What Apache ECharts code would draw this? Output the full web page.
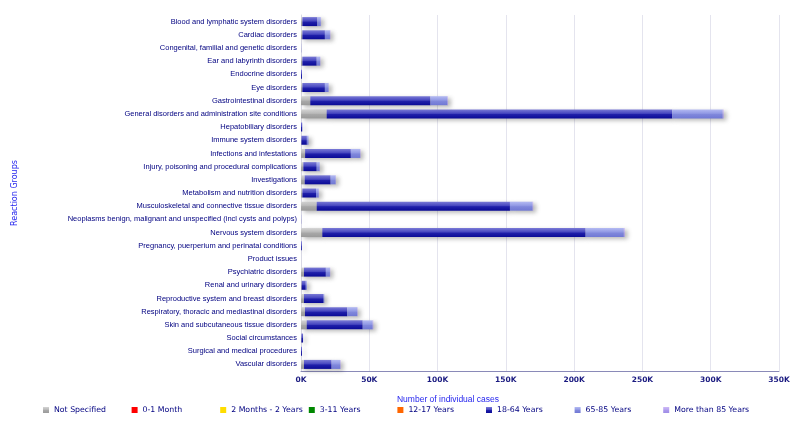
<!DOCTYPE html>
<html>
<head>
<meta charset="utf-8">
<script src="https://cdn.jsdelivr.net/npm/echarts@6/dist/echarts.min.js"></script>
<style>html,body{margin:0;padding:0;background:#fff}#c{width:800px;height:425px}</style>
</head>
<body>
<div id="c"></div>
<script>
const categories = [
  "Blood and lymphatic system disorders",
  "Cardiac disorders",
  "Congenital, familial and genetic disorders",
  "Ear and labyrinth disorders",
  "Endocrine disorders",
  "Eye disorders",
  "Gastrointestinal disorders",
  "General disorders and administration site conditions",
  "Hepatobiliary disorders",
  "Immune system disorders",
  "Infections and infestations",
  "Injury, poisoning and procedural complications",
  "Investigations",
  "Metabolism and nutrition disorders",
  "Musculoskeletal and connective tissue disorders",
  "Neoplasms benign, malignant and unspecified (incl cysts and polyps)",
  "Nervous system disorders",
  "Pregnancy, puerperium and perinatal conditions",
  "Product issues",
  "Psychiatric disorders",
  "Renal and urinary disorders",
  "Reproductive system and breast disorders",
  "Respiratory, thoracic and mediastinal disorders",
  "Skin and subcutaneous tissue disorders",
  "Social circumstances",
  "Surgical and medical procedures",
  "Vascular disorders"
];
const notSpecified = [1000,1000,0,1000,0,1000,6800,18800,0,300,3000,1700,2700,1000,11500,0,15600,0,0,2200,500,2200,2900,4200,300,0,2200];
const m0_1 = new Array(27).fill(0);
const m2_y2 = new Array(27).fill(0);
const y3_11 = new Array(27).fill(0);
const y12_17 = new Array(27).fill(0);
const y18_64 = [11000,16500,100,10500,700,16500,88000,253000,900,4000,33500,9800,19000,10000,141500,100,192800,600,0,16000,3000,14400,31000,41000,1200,700,20200];
const y65_85 = [2500,3700,0,2500,0,2700,12400,37000,0,1200,6800,2200,3700,2000,16600,0,28000,0,0,3000,800,500,7300,7300,0,0,6300];
const y85plus = [200,300,0,200,0,200,400,600,0,0,300,200,200,200,400,0,600,0,0,200,0,0,300,400,0,0,300];
const seriesNames = ["Not Specified","0-1 Month","2 Months - 2 Years","3-11 Years","12-17 Years","18-64 Years","65-85 Years","More than 85 Years"];
const xTicks = [0,50000,100000,150000,200000,250000,300000,350000];

function grad(a,b,c,d){
  return {type:'linear',x:0,y:0,x2:0,y2:1,colorStops:[
    {offset:0,color:a},{offset:0.45,color:b},{offset:0.55,color:c},{offset:1,color:d}]};
}
const colors = [
  grad('#d4d4d4','#b8b8b8','#a8a8a8','#9a9a9a'),
  '#ff0000','#ffdd00','#008800','#ff6600',
  grad('#7a7ad6','#4545bf','#2020aa','#0a0a96'),
  grad('#b4baf2','#9098e4','#8088dc','#7078d4'),
  grad('#cdb8f6','#b6a4f0','#ab98ec','#9e8ce6')
];
const datas = [notSpecified,m0_1,m2_y2,y3_11,y12_17,y18_64,y65_85,y85plus];

const series = seriesNames.map((n,i)=>({
  name:n, type:'bar', stack:'total', barWidth:9, data:datas[i],
  itemStyle:{color:colors[i], shadowColor:'rgba(0,0,0,0.28)', shadowBlur:4, shadowOffsetX:3, shadowOffsetY:2},
  emphasis:{disabled:true}
}));

const legends = seriesNames.map((n,i)=>({
  data:[n], left:38 + i*88.6, top:401, itemWidth:6, itemHeight:6, icon:'rect',
  textStyle:{fontSize:7.8, color:'#000080', fontFamily:'DejaVu Sans'}
}));

const chart = echarts.init(document.getElementById('c'));
chart.setOption({
  animation:false,
  textStyle:{fontFamily:'Liberation Sans'},
  grid:{left:301,right:21,top:15,bottom:54},
  title:{text:'Number of individual cases', left:443, top:390, textAlign:'center',
    textStyle:{fontSize:8.5, fontWeight:'normal', color:'#1f1fee', fontFamily:'Liberation Sans'}},
  legend:legends,
  xAxis:{type:'value', min:0, max:350000, interval:50000,
    axisLine:{show:true, lineStyle:{color:'#8a8ab8', width:1}},
    axisTick:{show:false},
    splitLine:{lineStyle:{color:'#e4e4ee'}},
    axisLabel:{fontSize:7.5, fontWeight:'bold', color:'#1a1a80', margin:5, fontFamily:'DejaVu Sans',
      formatter:v=>(v/1000)+'K'}},
  yAxis:{type:'category', data:categories, inverse:true,
    name:'Reaction Groups', nameLocation:'middle', nameGap:282,
    nameTextStyle:{fontSize:8, color:'#1f1fee', fontFamily:'DejaVu Sans'},
    axisLine:{show:true, lineStyle:{color:'#d8d8e4'}},
    axisTick:{show:false},
    axisLabel:{fontSize:7.5, color:'#000080', margin:4, interval:0}},
  series:series
});
</script>
</body>
</html>
